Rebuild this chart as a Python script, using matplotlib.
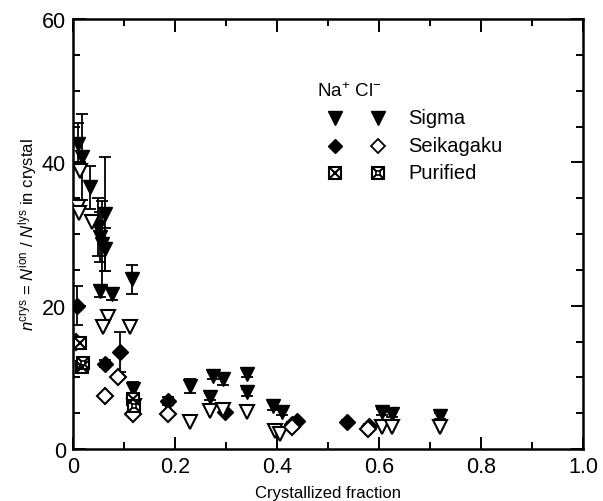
import matplotlib
matplotlib.use("Agg")
import matplotlib.pyplot as plt
from matplotlib.ticker import MultipleLocator

plt.rcParams['font.family'] = ['Liberation Sans', 'DejaVu Sans']
plt.rcParams['mathtext.fontset'] = 'custom'
plt.rcParams['mathtext.rm'] = 'Liberation Sans'
plt.rcParams['mathtext.it'] = 'Liberation Sans:italic'

# Sigma, Na+ (filled triangles)
na_sigma_x = [0.010, 0.018, 0.033, 0.049, 0.063, 0.053, 0.057, 0.063, 0.053, 0.076,
              0.116, 0.118, 0.229, 0.274, 0.294, 0.269, 0.341, 0.341, 0.392, 0.410,
              0.606, 0.626, 0.720]
na_sigma_y = [42.5, 40.8, 36.5, 31.0, 32.8, 29.6, 28.6, 27.9, 22.0, 21.6,
              23.7, 8.4, 8.8, 10.2, 9.7, 7.3, 10.5, 7.9, 6.0, 5.2,
              5.2, 4.9, 4.6]
na_sigma_err = [3.0, 6.0, 3.0, 4.0, 8.0, 3.5, 6.0, 3.0, 0.8, 0.8,
                2.0, 1.0, 1.0, 0.5, 0.8, 0.5, 0.5, 0.5, 0.5, 0.5,
                0.4, 0.4, 0.4]
# Sigma, Cl- (open triangles)
cl_sigma_x = [0.014, 0.010, 0.012, 0.037, 0.069, 0.059, 0.112, 0.120, 0.229, 0.269,
              0.294, 0.341, 0.396, 0.405, 0.606, 0.626, 0.720]
cl_sigma_y = [38.8, 33.8, 33.0, 31.7, 18.4, 17.0, 17.0, 6.0, 3.8, 5.3,
              5.4, 5.2, 2.5, 2.1, 3.1, 3.1, 3.1]
# Seikagaku
na_seik_x = [0.008, 0.092, 0.063, 0.186, 0.298, 0.430, 0.439, 0.537, 0.580]
na_seik_y = [20.0, 13.5, 11.9, 6.7, 5.2, 3.5, 3.9, 3.8, 3.2]
na_seik_err = [2.7, 2.8, 0.5, 0.5, 0.3, 0.3, 0.3, 0.3, 0.3]
cl_seik_x = [0.006, 0.088, 0.063, 0.118, 0.186, 0.430, 0.578]
cl_seik_y = [15.0, 10.0, 7.4, 4.9, 4.9, 3.0, 2.8]
# Purified
na_pur_x = [0.018, 0.014, 0.118]
na_pur_y = [11.4, 14.8, 7.0]
cl_pur_x = [0.020, 0.120]
cl_pur_y = [12.0, 6.0]

xtick_vals = [0, 0.2, 0.4, 0.6, 0.8, 1.0]
xtick_labels = ['0', '0.2', '0.4', '0.6', '0.8', '1.0']

fig = plt.figure(figsize=(6.03, 5.02), dpi=100)
ax = fig.add_axes([0.121, 0.1036, 0.846, 0.8564])

ms = 10.5
ax.errorbar(na_sigma_x, na_sigma_y, yerr=na_sigma_err, fmt='v', color='black',
            ms=ms, ecolor='black', elinewidth=1.3, capsize=4, capthick=1.3, zorder=3)
ax.plot(cl_sigma_x, cl_sigma_y, 'v', ms=ms, mfc='white', mec='black', mew=1.5, ls='none', zorder=4)
ax.errorbar(na_seik_x, na_seik_y, yerr=na_seik_err, fmt='D', color='black',
            ms=8, ecolor='black', elinewidth=1.3, capsize=4, capthick=1.3, zorder=3)
ax.plot(cl_seik_x, cl_seik_y, 'D', ms=8, mfc='white', mec='black', mew=1.5, ls='none', zorder=4)
ax.plot(na_pur_x, na_pur_y, 's', ms=9, mfc='white', mec='black', mew=1.5, ls='none', zorder=4)
ax.plot(na_pur_x, na_pur_y, 'x', ms=8, mec='black', mew=1.5, ls='none', zorder=5)
ax.plot(cl_pur_x, cl_pur_y, 's', ms=9, mfc='white', mec='black', mew=1.5, ls='none', zorder=4)
ax.plot(cl_pur_x, cl_pur_y, 'x', ms=8, mec='black', mew=1.5, ls='none', zorder=5)
ax.plot(cl_pur_x, cl_pur_y, 's', ms=3.5, mfc='white', mec='black', mew=1.2, ls='none', zorder=6)

ax.set_xlim(0, 1.0)
ax.set_ylim(0, 60)
ax.set_xticks(xtick_vals)
ax.set_xticklabels(xtick_labels)
ax.xaxis.set_minor_locator(MultipleLocator(0.1))
ax.yaxis.set_major_locator(MultipleLocator(20))
ax.yaxis.set_minor_locator(MultipleLocator(5))
ax.tick_params(which='both', direction='in', top=True, right=True, labelsize=15.5, width=1.4)
ax.tick_params(which='major', length=9, pad=5)
ax.tick_params(which='minor', length=5)
for s in ax.spines.values():
    s.set_linewidth(1.8)

ax.set_xlabel('Crystallized fraction', fontsize=12, labelpad=6)
ax.set_ylabel(r'$n^{\mathrm{crys}}$ = $N^{\mathrm{ion}}$ / $N^{\mathrm{lys}}$ in crystal',
              fontsize=12, labelpad=2)

# legend drawn in axes coordinates
T = ax.transAxes
ax.text(0.478, 0.833, 'Na$^{+}$ Cl$^{-}$', transform=T, fontsize=13.5, va='center', ha='left')
rows = [0.770, 0.705, 0.642]
ax.plot([0.514, 0.598], [rows[0]] * 2, 'v', ms=10, color='black', ls='none', transform=T)
ax.plot([0.514], [rows[1]], 'D', ms=7, color='black', ls='none', transform=T)
ax.plot([0.598], [rows[1]], 'D', ms=7, mfc='white', mec='black', mew=1.3, ls='none', transform=T)
for xx in (0.514, 0.598):
    ax.plot([xx], [rows[2]], 's', ms=9, mfc='white', mec='black', mew=1.5, ls='none', transform=T)
    ax.plot([xx], [rows[2]], 'x', ms=8, mec='black', mew=1.5, ls='none', transform=T)
ax.plot([0.598], [rows[2]], 's', ms=3.5, mfc='white', mec='black', mew=1.2, ls='none', transform=T)
for yy, lab in zip(rows, ['Sigma', 'Seikagaku', 'Purified']):
    ax.text(0.657, yy, lab, transform=T, fontsize=14.5, va='center', ha='left')

fig.savefig('out.png', dpi=100)
